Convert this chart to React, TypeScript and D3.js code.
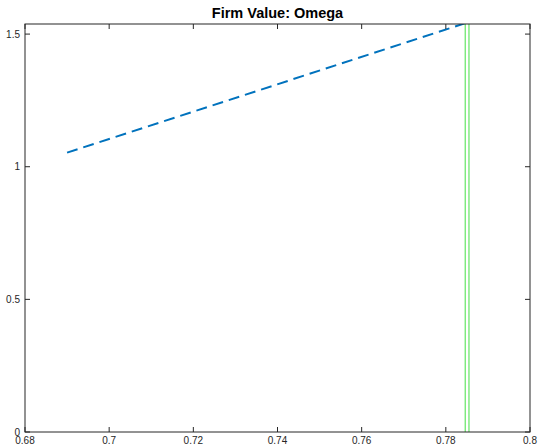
import React from "react";
import * as d3 from "d3";

const W = 538;
const H = 448;

// Firm value curve (dashed) and bound markers (vertical lines)
const omegaX = [0.69, 0.785];
const firmValue = [1.053, 1.543];
const boundX = [0.7846, 0.7855];

const xTicks = [0.68, 0.7, 0.72, 0.74, 0.76, 0.78, 0.8];
const yTicks = [0, 0.5, 1, 1.5];
const xDomain: [number, number] = [0.68, 0.8];
const yDomain: [number, number] = [0, 1.538];

const margin = { left: 25, right: 8, top: 24, bottom: 16 };

export default function App() {
  const x = d3.scaleLinear().domain(xDomain).range([margin.left, W - margin.right]);
  const y = d3.scaleLinear().domain(yDomain).range([H - margin.bottom, margin.top]);
  const [x0, x1] = x.range();
  const [y0, y1] = y.range();
  const line = d3
    .line<[number, number]>()
    .x((d) => x(d[0]))
    .y((d) => y(d[1]));
  const pts: [number, number][] = omegaX.map((v, i) => [v, firmValue[i]]);
  const tickLen = 5;
  const textColor = "#262626";
  const font = "'Liberation Sans', Arial, Helvetica, sans-serif";

  return (
    <svg
      width={W}
      height={H}
      style={{ position: "absolute", left: 0, top: 0, display: "block", background: "#fff" }}
      fontFamily={font}
    >
      <defs>
        <clipPath id="plotArea">
          <rect x={x0} y={y1} width={x1 - x0} height={y0 - y1} />
        </clipPath>
      </defs>
      <rect x={0} y={0} width={W} height={H} fill="#fff" />
      <g clipPath="url(#plotArea)">
        <path
          d={line(pts) ?? ""}
          fill="none"
          stroke="#0072bd"
          strokeWidth={2}
          strokeDasharray="11,6"
        />
        {boundX.map((v, i) => (
          <line key={i} x1={x(v)} x2={x(v)} y1={y0} y2={y1} stroke="#44e044" strokeWidth={1} />
        ))}
      </g>
      {/* ticks on all four sides, pointing inward */}
      {xTicks.map((t) => (
        <g key={"x" + t}>
          <line x1={x(t)} x2={x(t)} y1={y0} y2={y0 - tickLen} stroke={textColor} />
          <line x1={x(t)} x2={x(t)} y1={y1} y2={y1 + tickLen} stroke={textColor} />
          <text x={x(t)} y={y0 + 12} fontSize={10} fill={textColor} textAnchor="middle">
            {d3.format("")(t)}
          </text>
        </g>
      ))}
      {yTicks.map((t) => (
        <g key={"y" + t}>
          <line x1={x0} x2={x0 + tickLen} y1={y(t)} y2={y(t)} stroke={textColor} />
          <line x1={x1} x2={x1 - tickLen} y1={y(t)} y2={y(t)} stroke={textColor} />
          <text x={x0 - 5} y={y(t) + 3.5} fontSize={10} fill={textColor} textAnchor="end">
            {d3.format("")(t)}
          </text>
        </g>
      ))}
      <rect
        x={x0}
        y={y1}
        width={x1 - x0}
        height={y0 - y1}
        fill="none"
        stroke={textColor}
        strokeWidth={1}
      />
      <text
        x={(x0 + x1) / 2}
        y={17.5}
        fontSize={14.5}
        fontWeight="bold"
        fill="#000"
        textAnchor="middle"
      >
        Firm Value: Omega
      </text>
    </svg>
  );
}
